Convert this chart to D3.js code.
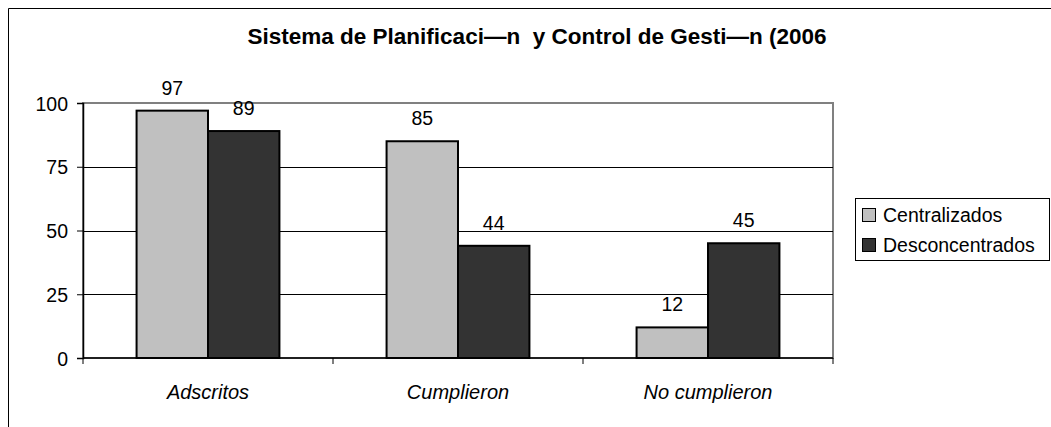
<!DOCTYPE html>
<html lang="es">
<head>
<meta charset="UTF-8">
<title>Sistema de Planificación y Control de Gestión</title>
<script src="https://d3js.org/d3.v7.min.js"></script>
<style>
    body { margin: 0; background: #fff; }
    text { font-family: "Liberation Sans", Arial, sans-serif; fill: #000; }
</style>
</head>
<body>
<script>
    // data
    const categories = ["Adscritos", "Cumplieron", "No cumplieron"];
    const seriesNames = ["Centralizados", "Desconcentrados"];
    const centralizados = [97, 85, 12];
    const desconcentrados = [89, 44, 45];
    const yTicks = [0, 25, 50, 75, 100];
    const colors = ["#c0c0c0", "#333333"];
    const title = "Sistema de Planificaci\u2014n  y Control de Gesti\u2014n (2006";

    const width = 1051, height = 427;
    const plot = { left: 83, right: 833, top: 103, bottom: 358 };
    const font = "Liberation Sans, Arial, sans-serif";

    const svg = d3.select("body").append("svg")
        .attr("width", width)
        .attr("height", height);

    // outer chart border (only top & left visible)
    svg.append("path")
        .attr("d", `M8.5,${height} V8.5 H${width}`)
        .attr("fill", "none")
        .attr("stroke", "#000")
        .attr("stroke-width", 1);

    const x0 = d3.scaleBand().domain(categories).range([plot.left, plot.right]);
    const x1 = d3.scaleBand().domain(seriesNames).range([0, x0.bandwidth()]).paddingOuter(0.75).paddingInner(0);
    const y = d3.scaleLinear().domain([0, 100]).range([plot.bottom, plot.top]);

    // plot border and gridlines
    svg.append("rect")
        .attr("x", plot.left).attr("y", plot.top)
        .attr("width", plot.right - plot.left).attr("height", plot.bottom - plot.top)
        .attr("fill", "none").attr("stroke", "#808080").attr("stroke-width", 2);

    svg.append("g").selectAll("line")
        .data(yTicks.filter(t => t > 0 && t < 100))
        .join("line")
        .attr("x1", plot.left).attr("x2", plot.right)
        .attr("y1", d => Math.round(y(d)) + 0.5).attr("y2", d => Math.round(y(d)) + 0.5)
        .attr("stroke", "#000").attr("stroke-width", 1);

    const series = [centralizados, desconcentrados];
    const rows = [];
    categories.forEach((c, i) => {
        seriesNames.forEach((s, j) => rows.push({ cat: c, s, v: series[j][i], j }));
    });

    svg.append("g").selectAll("rect")
        .data(rows)
        .join("rect")
        .attr("x", d => x0(d.cat) + x1(d.s))
        .attr("y", d => y(d.v))
        .attr("width", x1.bandwidth())
        .attr("height", d => y(0) - y(d.v))
        .attr("fill", d => colors[d.j])
        .attr("stroke", "#000")
        .attr("stroke-width", 2);

    svg.append("g").selectAll("text")
        .data(rows)
        .join("text")
        .attr("x", d => x0(d.cat) + x1(d.s) + x1.bandwidth() / 2)
        .attr("y", d => y(d.v) - 16)
        .attr("text-anchor", "middle")
        .style("font-size", "19.5px")
        .text(d => d.v);

    // y axis
    const yAxis = svg.append("g")
        .attr("transform", `translate(${plot.left},0)`)
        .call(d3.axisLeft(y).tickValues(yTicks).tickSize(6).tickPadding(9));
    yAxis.select(".domain").attr("stroke", "#000").attr("stroke-width", 1.5);
    yAxis.selectAll(".tick line").attr("stroke", "#000");
    yAxis.selectAll("text").style("font-size", "19.5px").style("font-family", font).attr("dy", "0.36em");

    // x axis
    const xAxis = svg.append("g")
        .attr("transform", `translate(0,${plot.bottom})`);
    xAxis.append("line")
        .attr("x1", plot.left).attr("x2", plot.right)
        .attr("stroke", "#000").attr("stroke-width", 1.5);
    xAxis.selectAll(".xt")
        .data([plot.left, ...categories.map(c => x0(c) + x0.bandwidth())])
        .join("line")
        .attr("x1", d => d).attr("x2", d => d)
        .attr("y1", 0).attr("y2", 6)
        .attr("stroke", "#000");
    xAxis.selectAll("text")
        .data(categories)
        .join("text")
        .attr("x", d => x0(d) + x0.bandwidth() / 2)
        .attr("y", 41)
        .attr("text-anchor", "middle")
        .style("font-size", "20px")
        .style("font-style", "italic")
        .text(d => d);

    // title
    svg.append("text")
        .attr("x", 537).attr("y", 44)
        .attr("text-anchor", "middle")
        .style("font-size", "22.5px")
        .style("font-weight", "bold")
        .style("white-space", "pre")
        .text(title);

    // legend
    const lg = svg.append("g").attr("transform", "translate(855,198)");
    lg.append("rect")
        .attr("x", 0.5).attr("y", 0.5)
        .attr("width", 194).attr("height", 62)
        .attr("fill", "#fff").attr("stroke", "#000");
    const li = lg.selectAll(".li").data(seriesNames).join("g")
        .attr("transform", (d, i) => `translate(7,${17 + i * 30})`);
    li.append("rect")
        .attr("x", 0.5).attr("y", -6.5).attr("width", 13).attr("height", 13)
        .attr("fill", (d, i) => colors[i]).attr("stroke", "#000").attr("stroke-width", 1);
    li.append("text")
        .attr("x", 21).attr("y", 7)
        .style("font-size", "19.5px")
        .text(d => d);
</script>
</body>
</html>
